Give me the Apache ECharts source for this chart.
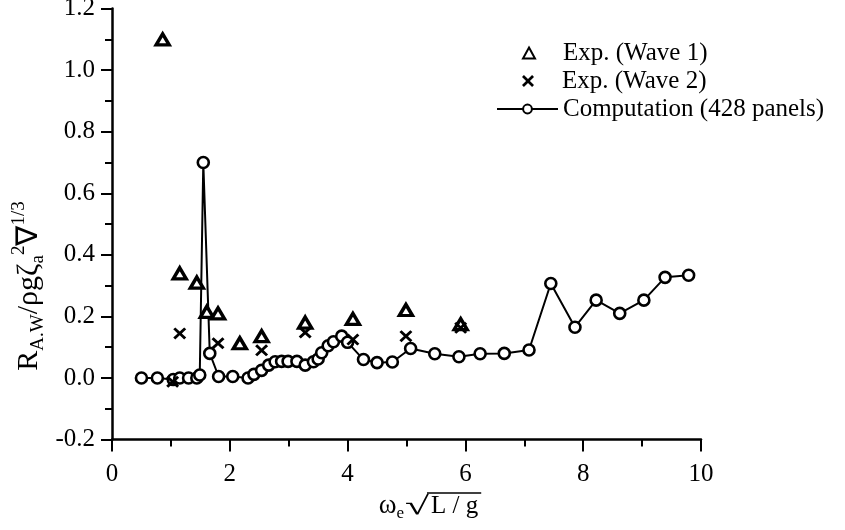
<!DOCTYPE html>
<html><head><meta charset="utf-8">
<script src="https://cdn.jsdelivr.net/npm/echarts@6/dist/echarts.min.js"></script>
<style>html,body{margin:0;padding:0;background:#fff}#c{width:845px;height:530px}</style>
</head><body><div id="c"></div>
<script>
// ---- data ----
const xTickLabels = ['0', '2', '4', '6', '8', '10'];
const yTickLabels = ['-0.2', '0.0', '0.2', '0.4', '0.6', '0.8', '1.0', '1.2'];
const wave1X = [0.86, 1.15, 1.44, 1.61, 1.80, 2.17, 2.54, 3.28, 4.09, 4.99, 5.92];
const wave1Y = [1.10, 0.34, 0.31, 0.215, 0.21, 0.113, 0.136, 0.18, 0.192, 0.221, 0.175];
const wave2X = [1.03, 1.15, 1.80, 2.54, 3.28, 4.09, 4.99, 5.92];
const wave2Y = [-0.012, 0.145, 0.113, 0.09, 0.148, 0.125, 0.136, 0.163];
const compX = [0.50, 0.77, 1.04, 1.15, 1.30, 1.44, 1.49, 1.55, 1.66, 1.81, 2.05, 2.31, 2.41, 2.54, 2.66, 2.77, 2.88, 2.99, 3.14, 3.28, 3.42, 3.50, 3.56, 3.67, 3.76, 3.90, 4.00, 4.27, 4.50, 4.76, 5.07, 5.48, 5.89, 6.25, 6.66, 7.08, 7.45, 7.86, 8.22, 8.62, 9.03, 9.39, 9.79];
const compY = [0, 0, -0.005, 0, 0, 0, 0.01, 0.70, 0.08, 0.005, 0.005, 0.0, 0.012, 0.025, 0.042, 0.053, 0.054, 0.054, 0.054, 0.042, 0.053, 0.062, 0.082, 0.105, 0.118, 0.136, 0.116, 0.06, 0.05, 0.052, 0.096, 0.079, 0.069, 0.079, 0.08, 0.091, 0.307, 0.165, 0.253, 0.21, 0.253, 0.327, 0.334];

const FONT = 'Liberation Serif';
const zip = (a, b) => a.map((v, i) => [v, b[i]]);
const crossPath = 'path://M1.6,0 L5,3.4 L8.4,0 L10,1.6 L6.6,5 L10,8.4 L8.4,10 L5,6.6 L1.6,10 L0,8.4 L3.4,5 L0,1.6 Z';

const chart = echarts.init(document.getElementById('c'), null, {renderer: 'canvas'});

// measure "L / g" width for the radical's vinculum
const cvs = document.createElement('canvas').getContext('2d');
cvs.font = '25px "' + FONT + '"';
const lgW = cvs.measureText('L / g').width;
cvs.font = '26px "' + FONT + '"';
const rootW = cvs.measureText('√').width;
const rootScale = 24 / rootW;
const P = 430;          // left edge of "L / g"
const RX = P - 25;      // left edge of radical

const legendBase = {
  orient: 'vertical', padding: 0, selectedMode: false,
  textStyle: {fontFamily: FONT, fontSize: 25, color: '#000', lineHeight: 26}
};

chart.setOption({
  animation: false,
  backgroundColor: '#fff',
  grid: {left: 112, right: 144, top: 8.6, bottom: 90.4, containLabel: false, outerBoundsMode: 'none'},
  xAxis: {
    type: 'value', min: 0, max: 10, interval: 2,
    axisLine: {show: true, onZero: false, lineStyle: {color: '#000', width: 2.5}},
    axisTick: {show: true, inside: false, length: 12, lineStyle: {color: '#000', width: 2}},
    minorTick: {show: true, splitNumber: 2, length: 7, lineStyle: {color: '#000', width: 2}},
    splitLine: {show: false}, minorSplitLine: {show: false},
    axisLabel: {
      margin: 22, color: '#000', fontFamily: FONT, fontSize: 25,
      formatter: v => xTickLabels[Math.round(v / 2)]
    }
  },
  yAxis: {
    type: 'value', min: -0.2, max: 1.2, interval: 0.2,
    axisLine: {show: true, onZero: false, lineStyle: {color: '#000', width: 2.5}},
    axisTick: {show: true, inside: false, length: 11, lineStyle: {color: '#000', width: 2}},
    minorTick: {show: true, splitNumber: 2, length: 7, lineStyle: {color: '#000', width: 2}},
    splitLine: {show: false}, minorSplitLine: {show: false},
    axisLabel: {
      margin: 17, color: '#000', fontFamily: FONT, fontSize: 25,
      formatter: v => yTickLabels[Math.round((v + 0.2) / 0.2)]
    }
  },
  legend: [
    Object.assign({}, legendBase, {data: ['Exp. (Wave 1)'], left: 522, top: 40, itemWidth: 12, itemHeight: 11,
      textStyle: Object.assign({}, legendBase.textStyle, {padding: [0, 0, 0, 23]})}),
    Object.assign({}, legendBase, {data: ['Exp. (Wave 2)'], left: 522, top: 68, itemWidth: 12, itemHeight: 12,
      textStyle: Object.assign({}, legendBase.textStyle, {padding: [0, 0, 0, 23]})}),
    Object.assign({}, legendBase, {data: ['Computation (428 panels)'], left: 496, top: 96, itemWidth: 61, itemHeight: 11})
  ],
  series: [
    {
      name: 'Computation (428 panels)', type: 'line', data: zip(compX, compY),
      symbol: 'circle', symbolSize: 11, showAllSymbol: true,
      lineStyle: {color: '#000', width: 2},
      itemStyle: {color: '#fff', borderColor: '#000', borderWidth: 2.6},
      z: 2
    },
    {
      name: 'Exp. (Wave 1)', type: 'scatter', data: zip(wave1X, wave1Y),
      symbol: 'triangle', symbolSize: [13, 11],
      itemStyle: {color: '#fff', borderColor: '#000', borderWidth: 3.4, opacity: 1},
      z: 3
    },
    {
      name: 'Exp. (Wave 2)', type: 'scatter', data: zip(wave2X, wave2Y),
      symbol: crossPath, symbolSize: [13, 12],
      itemStyle: {color: '#000', opacity: 1},
      z: 3
    }
  ],
  graphic: [
    {
      type: 'text', x: 29, y: 286, rotation: Math.PI / 2,
      style: {
        text: '{m|R}{s|A.W}{m|/ρgζ}{s|a}{u|2}{m|∇}{u|1/3}',
        align: 'center', verticalAlign: 'middle', fill: '#000',
        rich: {
          m: {fontFamily: FONT, fontSize: 30, lineHeight: 38, fill: '#000', verticalAlign: 'middle'},
          s: {fontFamily: FONT, fontSize: 19, lineHeight: 19, fill: '#000', verticalAlign: 'bottom'},
          u: {fontFamily: FONT, fontSize: 19, lineHeight: 19, fill: '#000', verticalAlign: 'top'}
        }
      }
    },
    {
      type: 'text', x: RX - 1, y: 506,
      style: {
        text: '{m|ω}{s|e}',
        align: 'right', verticalAlign: 'middle', fill: '#000',
        rich: {
          m: {fontFamily: FONT, fontSize: 27, lineHeight: 32, fill: '#000', verticalAlign: 'middle'},
          s: {fontFamily: FONT, fontSize: 17, lineHeight: 17, fill: '#000', verticalAlign: 'bottom'}
        }
      }
    },
    {
      type: 'text', x: RX, y: 507, scaleX: rootScale,
      style: {text: '√', font: '26px "' + FONT + '"', fill: '#000', align: 'left', verticalAlign: 'middle'}
    },
    {
      type: 'text', x: P + 1, y: 506,
      style: {text: 'L / g', font: '25px "' + FONT + '"', fill: '#000', align: 'left', verticalAlign: 'middle'}
    },
    {
      type: 'line', shape: {x1: P - 3, y1: 493, x2: P + lgW + 4, y2: 493},
      style: {stroke: '#000', lineWidth: 1.6}
    }
  ]
});
</script></body></html>
